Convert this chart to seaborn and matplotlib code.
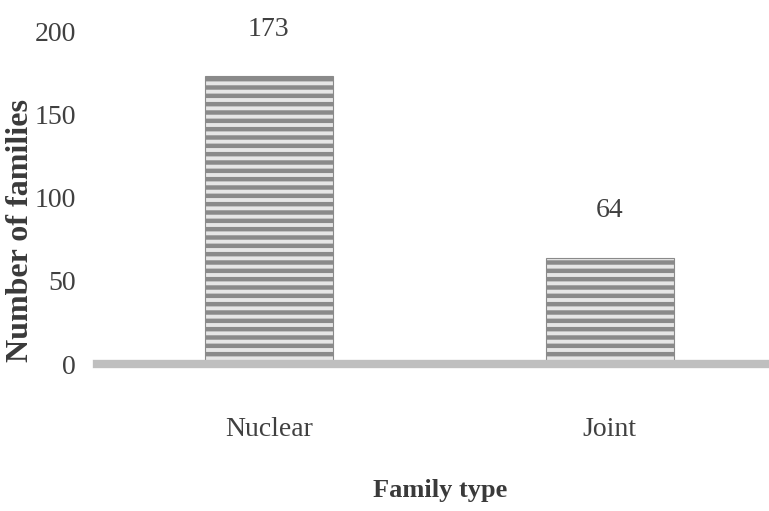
import seaborn as sns
import matplotlib.pyplot as plt
import pandas as pd

family_type = ["Nuclear", "Joint"]
families = [173, 64]
y_ticks = [0, 50, 100, 150, 200]

df = pd.DataFrame({"type": family_type, "n": families})

sns.set_style("white")
plt.rcParams["font.family"] = ["Liberation Serif", "DejaVu Serif"]
plt.rcParams["hatch.color"] = "#555555"
plt.rcParams["hatch.linewidth"] = 3.2

fig = plt.figure(figsize=(7.69, 5.11), dpi=100)
ax = fig.add_axes([97 / 769, (511 - 364) / 511, 1 - 97 / 769, 364 / 511])

sns.barplot(data=df, x="type", y="n", color="#e6e6e6", width=0.375,
            saturation=1, ax=ax)
for p in ax.patches:
    p.set_hatch("--")
    p.set_edgecolor("#8a8a8a")
    p.set_linewidth(0.8)

ax.set_xlim(-0.504, 1.467)
ax.set_ylim(0, 219)
ax.set_yticks(y_ticks)

for i, v in enumerate(families):
    ax.text(i, v + 21, str(v), ha="center", va="bottom", fontsize=20,
            color="#404040")

for s in ["top", "right", "left"]:
    ax.spines[s].set_visible(False)
ax.spines["bottom"].set_color("#bfbfbf")
ax.spines["bottom"].set_linewidth(6)

ax.tick_params(axis="both", length=0, labelsize=20, labelcolor="#404040")
ax.tick_params(axis="y", pad=15)
ax.tick_params(axis="x", pad=38)

ax.set_xlabel("")
ax.set_ylabel("")
fig.text(440 / 769, 1 - 490 / 511, "Family type", ha="center", va="center",
         fontsize=19, fontweight="bold", color="#3a3a3a")
fig.text(21 / 769, 1 - 230 / 511, "Number of families", ha="center",
         va="center", rotation=90, fontsize=23, fontweight="bold",
         color="#3a3a3a")

fig.savefig("out.png", dpi=100)
